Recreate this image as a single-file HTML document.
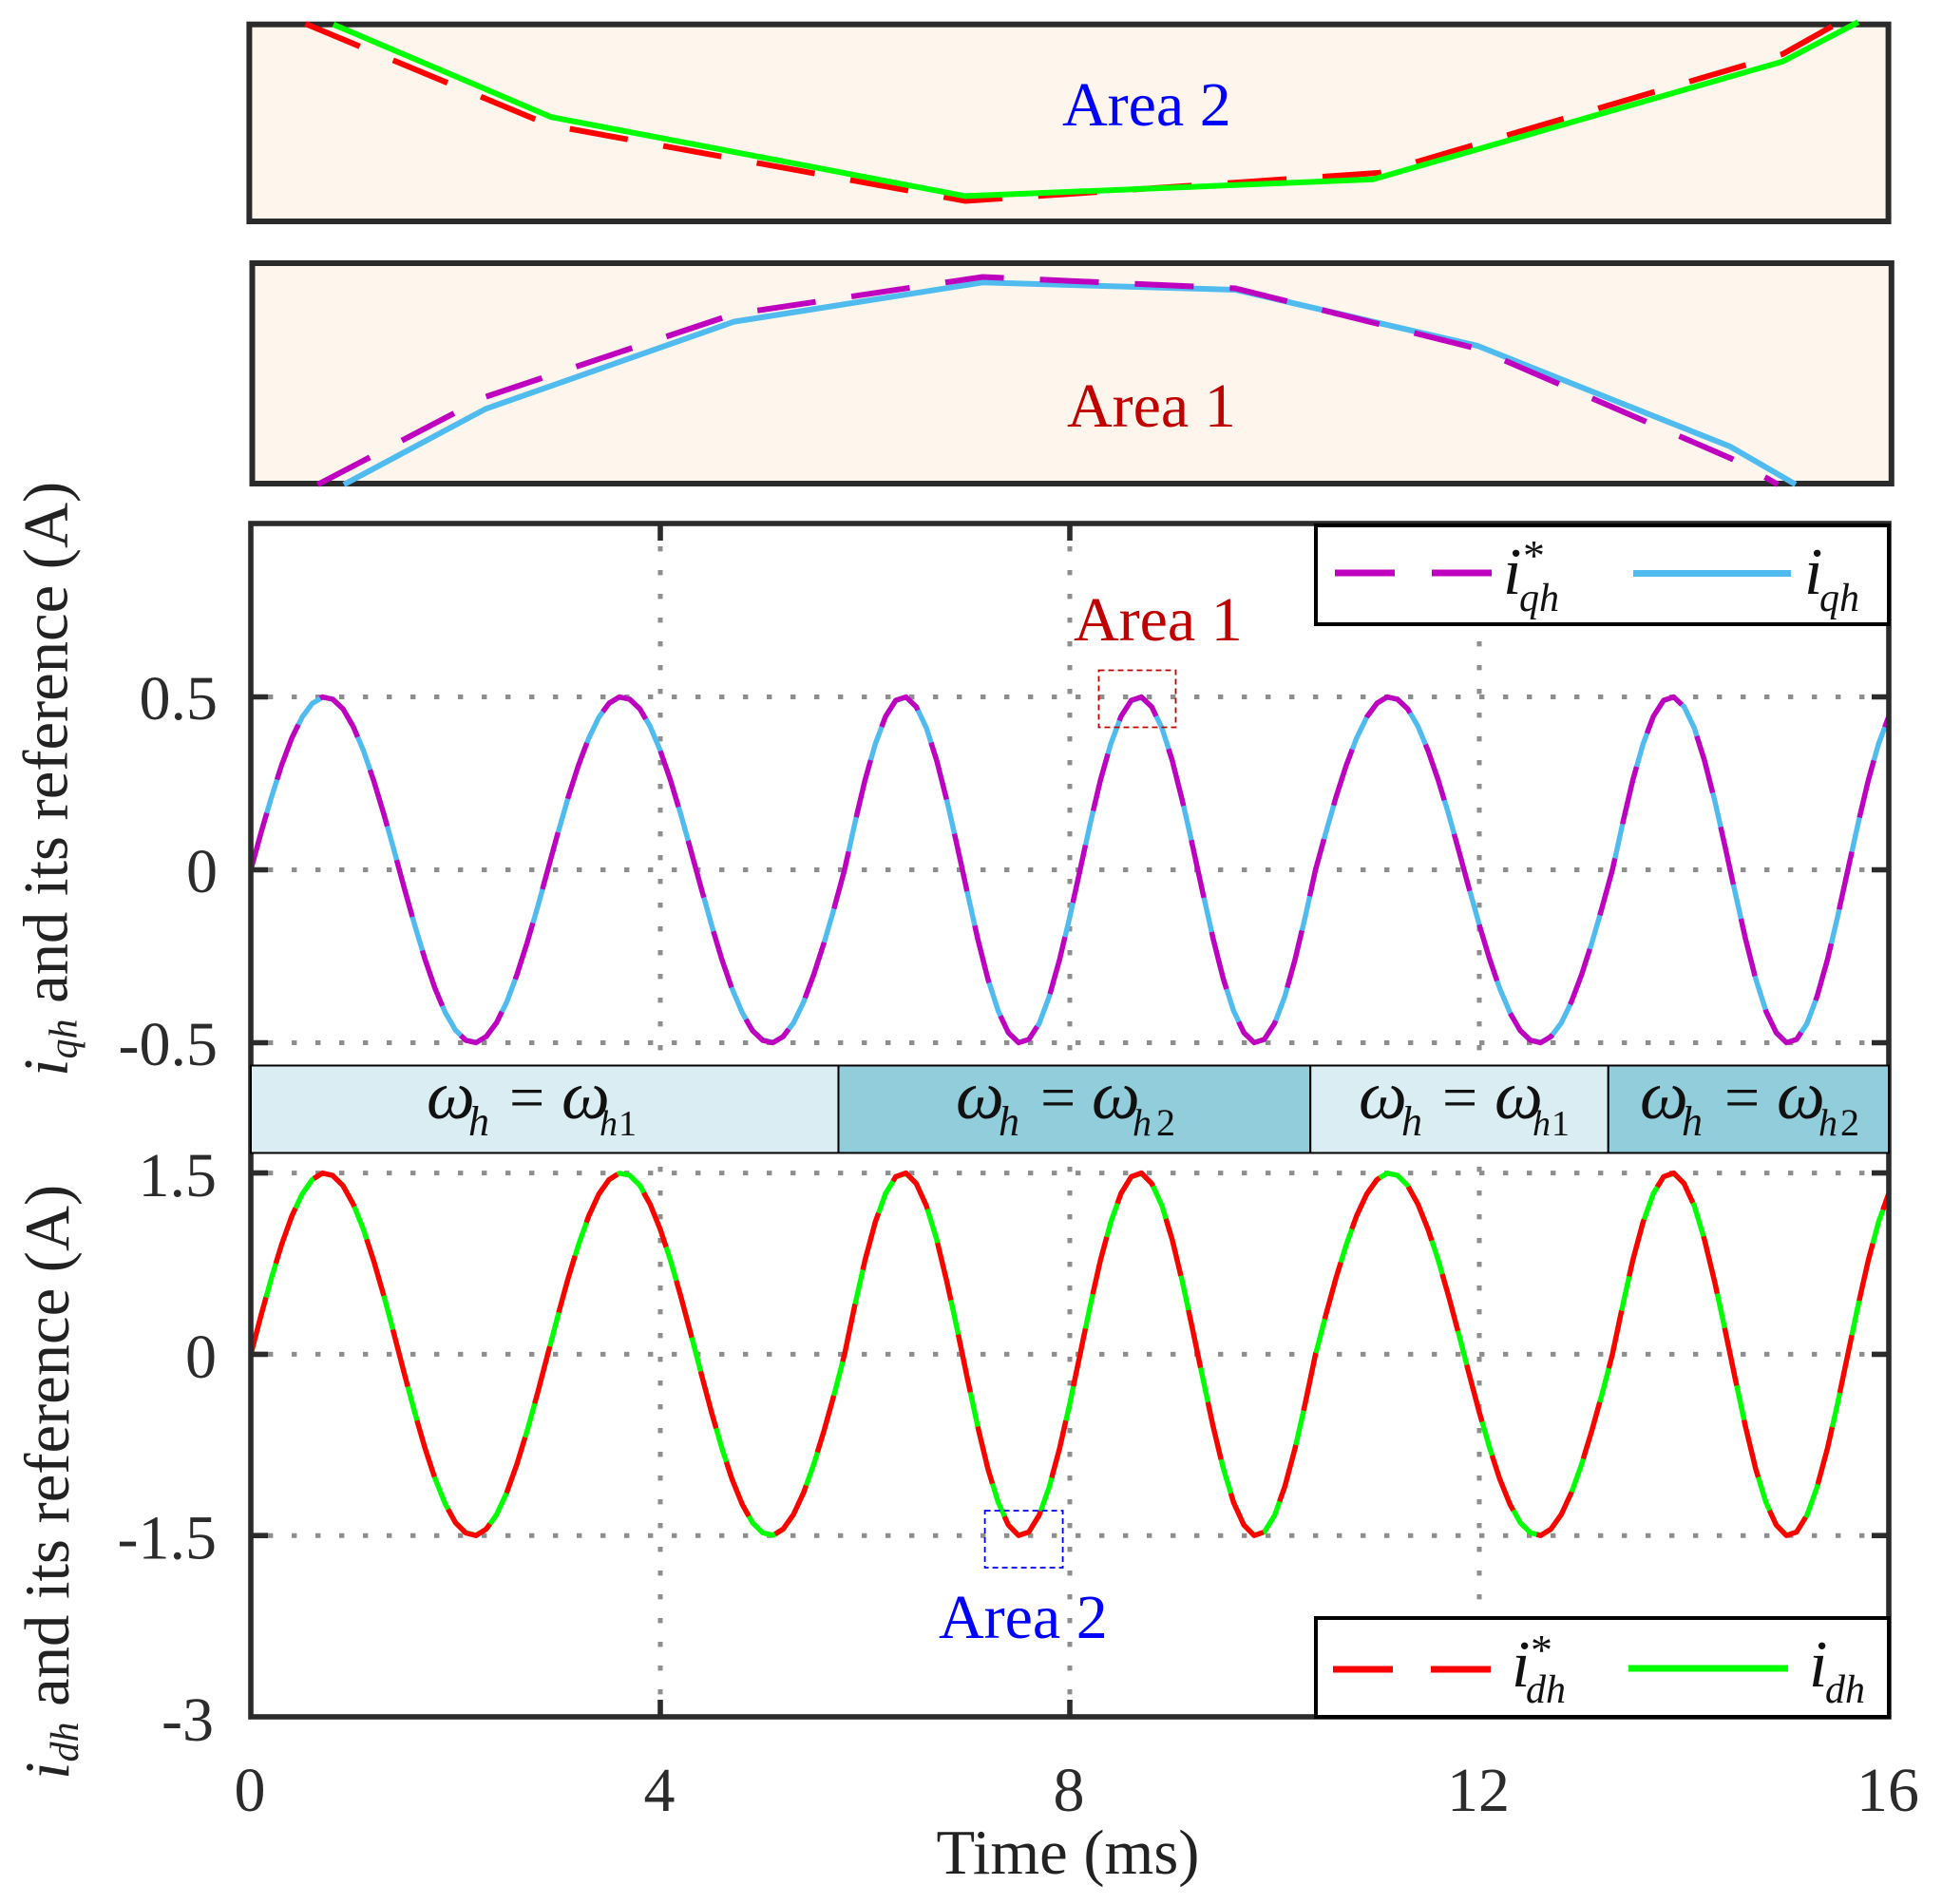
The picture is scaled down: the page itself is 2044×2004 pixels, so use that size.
<!DOCTYPE html>
<html lang="en">
<head>
<meta charset="utf-8">
<title>Harmonic current tracking</title>
<style>
html,body{margin:0;padding:0;background:#fff;}
svg{display:block;}
text{font-family:"Liberation Serif",serif;}
</style>
</head>
<body>
<svg id="chart" xmlns="http://www.w3.org/2000/svg" width="2044" height="2004" viewBox="0 0 2044 2004">
<rect width="2044" height="2004" fill="#fff"/>
<g id="layer"></g>
</svg>
<script>
const timeMs=[0,.1,.2,.3,.4,.5,.6,.7,.8,.9,1,1.1,1.2,1.3,1.4,1.5,1.6,1.7,1.8,1.9,2,2.1,2.2,2.3,2.4,2.5,2.6,2.7,2.8,2.9,3,3.1,3.2,3.3,3.4,3.5,3.6,3.7,3.8,3.9,4,4.1,4.2,4.3,4.4,4.5,4.6,4.7,4.8,4.9,5,5.1,5.2,5.3,5.4,5.5,5.6,5.7,5.8,5.9,6,6.1,6.2,6.3,6.4,6.5,6.6,6.7,6.8,6.9,7,7.1,7.2,7.3,7.4,7.5,7.6,7.7,7.8,7.9,8,8.1,8.2,8.3,8.4,8.5,8.6,8.7,8.8,8.9,9,9.1,9.2,9.3,9.4,9.5,9.6,9.7,9.8,9.9,10,10.1,10.2,10.3,10.4,10.5,10.6,10.7,10.8,10.9,11,11.1,11.2,11.3,11.4,11.5,11.6,11.7,11.8,11.9,12,12.1,12.2,12.3,12.4,12.5,12.6,12.7,12.8,12.9,13,13.1,13.2,13.3,13.4,13.5,13.6,13.7,13.8,13.9,14,14.1,14.2,14.3,14.4,14.5,14.6,14.7,14.8,14.9,15,15.1,15.2,15.3,15.4,15.5,15.6,15.7,15.8,15.9,16];
const iqRefValues=[0,.108,.21,.302,.381,.442,.482,.5,.493,.465,.414,.344,.258,.16,.054,-.054,-.16,-.258,-.344,-.414,-.465,-.493,-.5,-.482,-.442,-.381,-.302,-.21,-.108,0,.108,.21,.302,.381,.442,.482,.5,.493,.465,.414,.344,.258,.16,.054,-.054,-.16,-.258,-.344,-.414,-.465,-.493,-.5,-.482,-.442,-.381,-.302,-.21,-.108,0,.135,.26,.365,.444,.49,.5,.471,.409,.316,.199,.068,-.068,-.199,-.316,-.409,-.471,-.5,-.49,-.444,-.365,-.26,-.135,0,.135,.26,.365,.444,.49,.5,.471,.409,.316,.199,.068,-.068,-.199,-.316,-.409,-.471,-.5,-.49,-.444,-.365,-.26,-.135,0,.108,.21,.302,.381,.442,.482,.5,.493,.465,.414,.344,.258,.16,.054,-.054,-.16,-.258,-.344,-.414,-.465,-.493,-.5,-.482,-.442,-.381,-.302,-.21,-.108,0,.135,.26,.365,.444,.49,.5,.471,.409,.316,.199,.068,-.068,-.199,-.316,-.409,-.471,-.5,-.49,-.444,-.365,-.26,-.135,0,.135,.26,.365,.444];
const iqValues=[-.001,.107,.209,.301,.38,.441,.481,.499,.494,.466,.415,.345,.259,.161,.055,-.053,-.159,-.257,-.343,-.413,-.464,-.492,-.499,-.483,-.443,-.382,-.303,-.211,-.109,-.001,.107,.209,.301,.38,.441,.481,.499,.494,.466,.415,.345,.259,.161,.055,-.053,-.159,-.257,-.343,-.413,-.464,-.492,-.499,-.483,-.443,-.382,-.303,-.211,-.109,-.001,.134,.259,.364,.443,.489,.499,.472,.41,.317,.2,.069,-.067,-.198,-.315,-.408,-.47,-.499,-.491,-.445,-.366,-.261,-.136,-.001,.134,.259,.364,.443,.489,.498,.472,.41,.317,.2,.069,-.067,-.198,-.315,-.408,-.47,-.499,-.491,-.445,-.366,-.261,-.136,-.001,.107,.209,.301,.38,.441,.481,.499,.494,.466,.415,.345,.259,.161,.055,-.053,-.159,-.257,-.343,-.413,-.464,-.492,-.499,-.483,-.443,-.382,-.303,-.211,-.109,-.001,.134,.259,.364,.443,.489,.499,.472,.41,.317,.2,.069,-.067,-.198,-.315,-.408,-.47,-.499,-.491,-.445,-.366,-.261,-.136,-.001,.134,.259,.364,.443];
const idRefValues=[0,.324,.63,.906,1.143,1.326,1.446,1.5,1.479,1.395,1.242,1.032,.774,.48,.162,-.162,-.48,-.774,-1.032,-1.242,-1.395,-1.479,-1.5,-1.446,-1.326,-1.143,-.906,-.63,-.324,0,.324,.63,.906,1.143,1.326,1.446,1.5,1.479,1.395,1.242,1.032,.774,.48,.162,-.162,-.48,-.774,-1.032,-1.242,-1.395,-1.479,-1.5,-1.446,-1.326,-1.143,-.906,-.63,-.324,0,.405,.78,1.095,1.332,1.47,1.5,1.413,1.227,.948,.597,.204,-.204,-.597,-.948,-1.227,-1.413,-1.5,-1.47,-1.332,-1.095,-.78,-.405,0,.405,.78,1.095,1.332,1.47,1.5,1.413,1.227,.948,.597,.204,-.204,-.597,-.948,-1.227,-1.413,-1.5,-1.47,-1.332,-1.095,-.78,-.405,0,.324,.63,.906,1.143,1.326,1.446,1.5,1.479,1.395,1.242,1.032,.774,.48,.162,-.162,-.48,-.774,-1.032,-1.242,-1.395,-1.479,-1.5,-1.446,-1.326,-1.143,-.906,-.63,-.324,0,.405,.78,1.095,1.332,1.47,1.5,1.413,1.227,.948,.597,.204,-.204,-.597,-.948,-1.227,-1.413,-1.5,-1.47,-1.332,-1.095,-.78,-.405,0,.405,.78,1.095,1.332];
const idValues=[-.002,.322,.628,.904,1.141,1.324,1.444,1.498,1.481,1.397,1.244,1.034,.776,.482,.164,-.16,-.478,-.772,-1.03,-1.24,-1.393,-1.477,-1.498,-1.448,-1.328,-1.145,-.908,-.632,-.326,-.002,.322,.628,.904,1.141,1.324,1.444,1.498,1.481,1.397,1.244,1.034,.776,.482,.164,-.16,-.478,-.772,-1.03,-1.24,-1.393,-1.477,-1.498,-1.448,-1.328,-1.145,-.908,-.632,-.326,-.002,.403,.778,1.093,1.33,1.468,1.498,1.415,1.229,.95,.599,.206,-.202,-.595,-.946,-1.225,-1.411,-1.498,-1.472,-1.334,-1.097,-.782,-.407,-.002,.403,.778,1.093,1.33,1.468,1.496,1.415,1.229,.95,.599,.206,-.202,-.595,-.946,-1.225,-1.411,-1.498,-1.472,-1.334,-1.097,-.782,-.407,-.002,.322,.628,.904,1.141,1.324,1.444,1.498,1.481,1.397,1.244,1.034,.776,.482,.164,-.16,-.478,-.772,-1.03,-1.24,-1.393,-1.477,-1.498,-1.448,-1.328,-1.145,-.908,-.632,-.326,-.002,.403,.778,1.093,1.33,1.468,1.498,1.415,1.229,.95,.599,.206,-.202,-.595,-.946,-1.225,-1.411,-1.498,-1.472,-1.334,-1.097,-.782,-.407,-.002,.403,.778,1.093,1.33];

const area2RefTime=[7.196,7.309,7.502,7.694,7.881,7.906];
const area2RefValues=[-1.3996,-1.457,-1.5,-1.4841,-1.4168,-1.3996];
const area2ActualTime=[7.209,7.31,7.502,7.691,7.881,7.916];
const area2ActualValues=[-1.4,-1.4525,-1.4973,-1.4878,-1.421,-1.3987];
const area1RefTime=[8.364,8.441,8.555,8.669,8.785,8.896,9.014,9.034];
const area1RefValues=[.3493,.413,.4731,.5,.4917,.4479,.3672,.3493];
const area1ActualTime=[8.376,8.441,8.555,8.669,8.785,8.896,9.012,9.042];
const area1ActualValues=[.3493,.4042,.4675,.496,.4907,.4501,.3769,.3494];

const xTicks=[0,4,8,12,16];
const xTickLabels=["0","4","8","12","16"];
const iqTicks=[.5,0,-.5];
const iqTickLabels=["0.5","0","-0.5"];
const idTicks=[1.5,0,-1.5];
const idTickLabels=["1.5","0","-1.5"];
const bandEdges=[0,5.74,10.35,13.26,16];

const NS="http://www.w3.org/2000/svg";
const layer=document.getElementById("layer");
function make(tag,attrs,parent){
  const el=document.createElementNS(NS,tag);
  for(const k in attrs) el.setAttribute(k,attrs[k]);
  (parent||layer).appendChild(el);
  return el;
}
const xMain=t=>264+t*107.75;
const yIq=v=>915.5-v*364;
const yId=v=>1425.4-v*127.2;
const xArea2=t=>262.4+(t-7.17)/.76*1725.2;
const yArea2=v=>25.7+(-1.4-v)/.1116*207.3;
const xArea1=t=>265.5+(t-8.334)/.752*1725.3;
const yArea1=v=>277+(.51-v)/.16*232;
function pts(ts,vs,fx,fy){return ts.map((t,i)=>fx(t).toFixed(1)+","+fy(vs[i]).toFixed(1)).join(" ");}
const DARK="#2b2b2b",GRID="#8e8e8e",RED="#ff0000",GREEN="#00ff00",MAG="#bf00bf",BLUE="#50bbee";
const DASH="62 37";
const INSET_DASH="62 38";

/* inset 2 */
const inset2=make("rect",{x:262.4,y:25.7,width:1725.2,height:207.3,fill:"#fef6ec",stroke:DARK,"stroke-width":6});


const inset2Ref=make("polyline",{points:pts(area2RefTime,area2RefValues,xArea2,yArea2),fill:"none",stroke:RED,"stroke-width":6,"stroke-dasharray":INSET_DASH});


const inset2Act=make("polyline",{points:pts(area2ActualTime,area2ActualValues,xArea2,yArea2),fill:"none",stroke:GREEN,"stroke-width":6});



/* inset 1 */
const inset1=make("rect",{x:265.5,y:277,width:1725.3,height:232,fill:"#fef6ec",stroke:DARK,"stroke-width":6});


const inset1Act=make("polyline",{points:pts(area1ActualTime,area1ActualValues,xArea1,yArea1),fill:"none",stroke:BLUE,"stroke-width":6});


const inset1Ref=make("polyline",{points:pts(area1RefTime,area1RefValues,xArea1,yArea1),fill:"none",stroke:MAG,"stroke-width":6,"stroke-dasharray":INSET_DASH});



/* gridlines */
iqTicks.forEach(v=>{
  const g=make("line",{x1:xMain(0)+18,x2:xMain(16)-14,y1:yIq(v),y2:yIq(v),stroke:GRID,"stroke-width":5,"stroke-dasharray":"5.4 19.6"});
  
  
});
idTicks.forEach(v=>{
  const g=make("line",{x1:xMain(0)+18,x2:xMain(16)-14,y1:yId(v),y2:yId(v),stroke:GRID,"stroke-width":5,"stroke-dasharray":"5.4 19.6"});
  
  
});
xTicks.slice(1,4).forEach(t=>{
  const a=make("line",{x1:xMain(t),x2:xMain(t),y1:575,y2:1121,stroke:GRID,"stroke-width":5,"stroke-dasharray":"5.4 19.6"});
  
  
  const b=make("line",{x1:xMain(t),x2:xMain(t),y1:1228,y2:1786,stroke:GRID,"stroke-width":5,"stroke-dasharray":"5.4 19.6"});
  
  
});

/* main series */
const sIq=make("polyline",{points:pts(timeMs,iqValues,xMain,yIq),fill:"none",stroke:BLUE,"stroke-width":5.4,"stroke-linejoin":"round"});


const sIqRef=make("polyline",{points:pts(timeMs,iqRefValues,xMain,yIq),fill:"none",stroke:MAG,"stroke-width":5.4,"stroke-dasharray":DASH,"stroke-linejoin":"round"});


const sId=make("polyline",{points:pts(timeMs,idValues,xMain,yId),fill:"none",stroke:GREEN,"stroke-width":5.4,"stroke-linejoin":"round"});


const sIdRef=make("polyline",{points:pts(timeMs,idRefValues,xMain,yId),fill:"none",stroke:RED,"stroke-width":5.4,"stroke-dasharray":DASH,"stroke-linejoin":"round"});



/* axes frame */
const frame=make("rect",{x:xMain(0),y:551,width:xMain(16)-xMain(0),height:1807-551,fill:"none",stroke:DARK,"stroke-width":5.6});



/* ticks */
iqTicks.forEach(v=>{
  const l=make("line",{x1:xMain(0),x2:xMain(0)+18,y1:yIq(v),y2:yIq(v),stroke:DARK,"stroke-width":5.6});
  
  
  const r=make("line",{x1:xMain(16)-18,x2:xMain(16),y1:yIq(v),y2:yIq(v),stroke:DARK,"stroke-width":5.6});
  
  
});
idTicks.forEach(v=>{
  const l=make("line",{x1:xMain(0),x2:xMain(0)+18,y1:yId(v),y2:yId(v),stroke:DARK,"stroke-width":5.6});
  
  
  const r=make("line",{x1:xMain(16)-18,x2:xMain(16),y1:yId(v),y2:yId(v),stroke:DARK,"stroke-width":5.6});
  
  
});
xTicks.slice(1,4).forEach(t=>{
  const a=make("line",{x1:xMain(t),x2:xMain(t),y1:551,y2:569,stroke:DARK,"stroke-width":5.6});
  
  
  const b=make("line",{x1:xMain(t),x2:xMain(t),y1:1789,y2:1807,stroke:DARK,"stroke-width":5.6});
  
  
});

/* frequency bands */
const bandFills=["#daedf3","#92cddc"];
bandEdges.slice(0,4).forEach((edge,i)=>{
  const x0=xMain(edge),x1=xMain(bandEdges[i+1]);
  const r=make("rect",{x:x0,y:1121.5,width:x1-x0,height:92,fill:bandFills[i%2],stroke:"#000","stroke-width":2});
  
  
});

/* tick labels */
iqTicks.forEach((v,i)=>{
  const t=make("text",{x:229,y:yIq(v)+23.5,"font-size":66,"text-anchor":"end",fill:DARK});
  
  
  t.textContent=iqTickLabels[i];
});
idTicks.forEach((v,i)=>{
  const t=make("text",{x:228,y:yId(v)+24.5,"font-size":66,"text-anchor":"end",fill:DARK});
  
  
  t.textContent=idTickLabels[i];
});
xTicks.forEach((v,i)=>{
  const t=make("text",{x:xMain(v)-1,y:1906,"font-size":66,"text-anchor":"middle",fill:DARK});
  
  
  t.textContent=xTickLabels[i];
});
</script>
<svg xmlns="http://www.w3.org/2000/svg" width="2044" height="2004" viewBox="0 0 2044 2004" style="position:absolute;left:0;top:0;">
  <text x="1118" y="132" font-size="66" fill="#0000ff">Area 2</text>
  <text x="1123" y="449" font-size="66" fill="#c00000">Area 1</text>
  <text x="1130" y="674" font-size="66" fill="#c00000">Area 1</text>
  <text x="988" y="1724" font-size="66" fill="#0000ff">Area 2</text>
  <rect x="1156.5" y="705.5" width="81" height="60" fill="none" stroke="#c00000" stroke-width="1.8" stroke-dasharray="6 4"/>
  <rect x="1036.6" y="1590" width="82" height="60" fill="none" stroke="#0000ff" stroke-width="1.8" stroke-dasharray="6 4"/>

  <g fill="#111">
    <text><tspan x="449" y="1177" font-size="72" font-style="italic">ω</tspan><tspan x="493" y="1195" font-size="44" font-style="italic">h</tspan><tspan x="536" y="1177" font-size="66">=</tspan><tspan x="591" y="1177" font-size="72" font-style="italic">ω</tspan><tspan x="631" y="1195" font-size="38" font-style="italic">h</tspan><tspan x="651" y="1195" font-size="38">1</tspan></text>
    <text><tspan x="1006" y="1177" font-size="72" font-style="italic">ω</tspan><tspan x="1051" y="1195" font-size="44" font-style="italic">h</tspan><tspan x="1095" y="1177" font-size="66">=</tspan><tspan x="1149" y="1177" font-size="72" font-style="italic">ω</tspan><tspan x="1192" y="1195" font-size="40" font-style="italic">h</tspan><tspan x="1217" y="1195" font-size="40">2</tspan></text>
    <text><tspan x="1430" y="1177" font-size="72" font-style="italic">ω</tspan><tspan x="1475" y="1195" font-size="44" font-style="italic">h</tspan><tspan x="1518" y="1177" font-size="66">=</tspan><tspan x="1573" y="1177" font-size="72" font-style="italic">ω</tspan><tspan x="1613" y="1195" font-size="38" font-style="italic">h</tspan><tspan x="1633" y="1195" font-size="38">1</tspan></text>
    <text><tspan x="1726" y="1177" font-size="72" font-style="italic">ω</tspan><tspan x="1770" y="1195" font-size="44" font-style="italic">h</tspan><tspan x="1815" y="1177" font-size="66">=</tspan><tspan x="1870" y="1177" font-size="72" font-style="italic">ω</tspan><tspan x="1914" y="1195" font-size="40" font-style="italic">h</tspan><tspan x="1937" y="1195" font-size="40">2</tspan></text>
  </g>

  <g>
    <rect x="1385" y="553" width="603" height="104" fill="#fff" stroke="#000" stroke-width="4"/>
    <line x1="1405" x2="1570" y1="603" y2="603" stroke="#bf00bf" stroke-width="7" stroke-dasharray="63 39"/>
    <line x1="1719" x2="1885" y1="603.5" y2="603.5" stroke="#50bbee" stroke-width="7"/>
    <text font-style="italic" fill="#111"><tspan x="1582" y="625" font-size="70">i</tspan><tspan x="1603" y="600" font-size="46" font-style="normal">*</tspan><tspan x="1599" y="643" font-size="42">qh</tspan></text>
    <text font-style="italic" fill="#111"><tspan x="1899" y="625" font-size="70">i</tspan><tspan x="1915" y="643" font-size="42">qh</tspan></text>
  </g>
  <g>
    <rect x="1385" y="1703" width="603" height="104" fill="#fff" stroke="#000" stroke-width="4"/>
    <line x1="1403" x2="1569" y1="1757" y2="1757" stroke="#ff0000" stroke-width="7" stroke-dasharray="63 40"/>
    <line x1="1714" x2="1882" y1="1756" y2="1756" stroke="#00ff00" stroke-width="7"/>
    <text font-style="italic" fill="#111"><tspan x="1591" y="1775" font-size="70">i</tspan><tspan x="1611" y="1752" font-size="46" font-style="normal">*</tspan><tspan x="1606" y="1792" font-size="42">dh</tspan></text>
    <text font-style="italic" fill="#111"><tspan x="1904" y="1775" font-size="70">i</tspan><tspan x="1921" y="1792" font-size="42">dh</tspan></text>
  </g>

  <text transform="translate(70.5,1133) rotate(-90)" font-size="66.6" fill="#222"><tspan font-style="italic">i</tspan><tspan font-style="italic" font-size="42" dy="10">qh</tspan><tspan dy="-10"> and its reference (A)</tspan></text>
  <text transform="translate(72,1873) rotate(-90)" font-size="66.6" fill="#222"><tspan font-style="italic">i</tspan><tspan font-style="italic" font-size="42" dy="10">dh</tspan><tspan dy="-10"> and its reference (A)</tspan></text>
  <text x="1124" y="1972" font-size="66.6" text-anchor="middle" fill="#222">Time (ms)</text>

  <text x="225" y="1832" font-size="66" text-anchor="end" fill="#2b2b2b">-3</text>
</svg>
</body>
</html>
